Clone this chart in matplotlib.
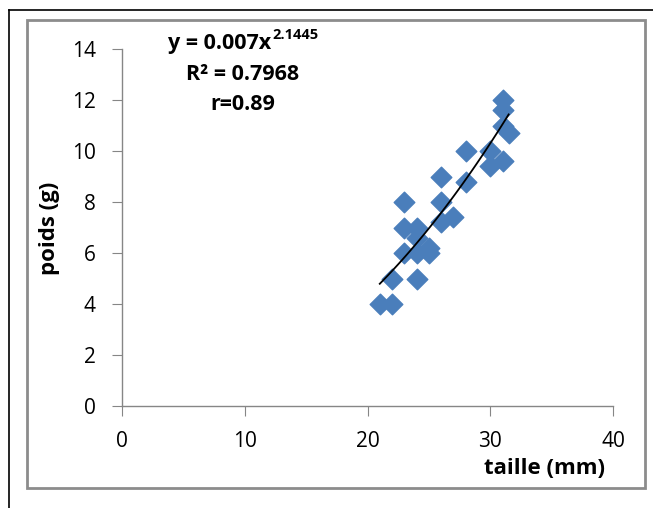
import matplotlib
matplotlib.use("Agg")
import matplotlib.pyplot as plt
from matplotlib.lines import Line2D
from matplotlib.patches import Rectangle
import numpy as np

taille = [21, 22, 22, 23, 23, 23, 24, 24, 24, 24, 25, 25, 26, 26, 26, 27, 28, 28, 30, 30, 31, 31, 31, 31, 31.5]
poids = [4, 4, 5, 6, 7, 8, 5, 6, 6.6, 7, 6, 6.2, 7.2, 8, 9, 7.4, 8.8, 10, 9.4, 10, 9.6, 11, 11.6, 12, 10.7]
coef_a = 0.007
coef_b = 2.1445
x_ticks = [0, 10, 20, 30, 40]
y_ticks = [0, 2, 4, 6, 8, 10, 12, 14]

plt.rcParams['font.family'] = ['Open Sans', 'DejaVu Sans']

fig = plt.figure(figsize=(6.53, 5.08), dpi=100)
W, H = 653, 508

# outer black border (left and top)
fig.add_artist(Line2D([9 / W, 9 / W], [0, 1 - 10 / H], color='black', lw=1.2, transform=fig.transFigure))
fig.add_artist(Line2D([9 / W, 1], [1 - 10 / H, 1 - 10 / H], color='black', lw=1.2, transform=fig.transFigure))
# inner gray chart frame
fig.add_artist(Rectangle((27 / W, 1 - 488 / H), (645 - 27) / W, (488 - 20) / H,
                         fill=False, edgecolor='#8c8c8c', lw=2, transform=fig.transFigure))

ax = fig.add_axes([122 / W, 1 - 406 / H, (613 - 122) / W, (406 - 49) / H])
ax.scatter(taille, poids, marker='D', s=110, color='#4a7ebb', edgecolors='#4a7ebb', zorder=3)

xs = np.linspace(min(taille), max(taille), 100)
ax.plot(xs, coef_a * xs ** coef_b, color='black', lw=1.3, zorder=4)

ax.set_xlim(0, 40)
ax.set_ylim(0, 14)
ax.set_xticks(x_ticks)
ax.set_yticks(y_ticks)
for s in ['top', 'right']:
    ax.spines[s].set_visible(False)
for s in ['left', 'bottom']:
    ax.spines[s].set_color('#868686')
    ax.spines[s].set_linewidth(1)
ax.tick_params(axis='both', direction='out', length=7, color='#868686', labelsize=15)
ax.tick_params(axis='x', pad=11)
ax.tick_params(axis='y', pad=12)

fig.text(50 / W, 1 - 228 / H, 'poids (g)', rotation=90, fontsize=16, fontweight='bold', ha='center', va='center')
fig.text(545 / W, 1 - 468 / H, 'taille (mm)', fontsize=16, fontweight='bold', ha='center', va='center')

renderer = fig.canvas.get_renderer()
cx = 243
# line 1 with superscript exponent
t1 = fig.text(0, 1 - 44 / H, 'y = 0.007x', fontsize=15.5, fontweight='bold', ha='left', va='center')
t1s = fig.text(0, 1 - 35 / H, str(coef_b), fontsize=10.5, fontweight='bold', ha='left', va='center')
w1 = t1.get_window_extent(renderer).width
w1s = t1s.get_window_extent(renderer).width
x0 = cx - (w1 + w1s + 1) / 2
t1.set_x(x0 / W)
t1s.set_x((x0 + w1 + 1) / W)

fig.text(cx / W, 1 - 75 / H, 'R² = 0.7968', fontsize=15.5, fontweight='bold', ha='center', va='center')
fig.text(cx / W, 1 - 104 / H, 'r=0.89', fontsize=15.5, fontweight='bold', ha='center', va='center')

fig.savefig('out.png', dpi=100)
